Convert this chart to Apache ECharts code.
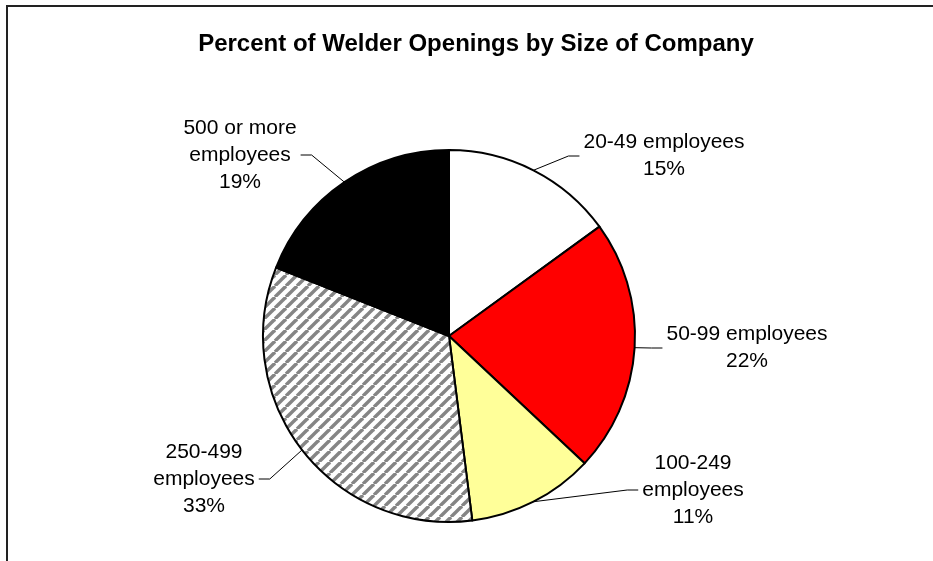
<!DOCTYPE html>
<html>
<head>
<meta charset="utf-8">
<script src="https://cdn.jsdelivr.net/npm/echarts@6/dist/echarts.min.js"></script>
<style>
  html, body { margin: 0; padding: 0; background: #fff; }
  #main { width: 933px; height: 561px; }
</style>
</head>
<body>
<div id="main"></div>
<script>
// 数据
var categories = ['20-49 employees', '50-99 employees', '100-249\nemployees', '250-499\nemployees', '500 or more\nemployees'];
var percents = [15, 22, 11, 33, 19];

// 标签位置 (label block centres, picked to match the layout)
var labelCenters = [[664, 156], [747, 348], [693, 490], [204, 479], [240, 155]];

var FONT = 'Arial, "Liberation Sans", sans-serif';

// 斜线填充
function hatch() {
    var s = 11;
    var c = document.createElement('canvas');
    c.width = s; c.height = s;
    var ctx = c.getContext('2d');
    ctx.fillStyle = '#fff';
    ctx.fillRect(0, 0, s, s);
    ctx.strokeStyle = '#858585';
    ctx.lineWidth = 3.4;
    for (var k = -1; k <= 2; k++) {
        ctx.beginPath();
        ctx.moveTo(k * s - s, s);
        ctx.lineTo(k * s, 0);
        ctx.stroke();
    }
    return c;
}

var colors = ['#ffffff', '#ff0000', '#ffff99', { image: hatch(), repeat: 'repeat' }, '#000000'];

var chart = echarts.init(document.getElementById('main'));

var data = categories.map(function (name, i) {
    return { name: name, value: percents[i], itemStyle: { color: colors[i] } };
});

var option = {
    animation: false,
    title: {
        text: 'Percent of Welder Openings by Size of Company',
        left: 471,
        textAlign: 'center',
        top: 27,
        textStyle: { fontFamily: FONT, fontSize: 24, fontWeight: 'bold', color: '#000' }
    },
    graphic: [
        {
            type: 'rect',
            shape: { x: 7, y: 6, width: 960, height: 600 },
            style: { fill: 'none', stroke: '#222', lineWidth: 2 },
            silent: true
        }
    ],
    series: [
        {
            type: 'pie',
            center: [449, 336],
            radius: 186,
            startAngle: 90,
            clockwise: true,
            data: data,
            itemStyle: { borderColor: '#000', borderWidth: 2 },
            label: {
                show: true,
                position: 'outside',
                fontFamily: FONT,
                fontSize: 21,
                lineHeight: 27,
                color: '#000',
                formatter: function (p) {
                    return p.name + '\n' + Math.round(p.percent) + '%';
                }
            },
            labelLine: {
                show: true,
                length: 10,
                length2: 10,
                lineStyle: { color: '#000', width: 1 }
            },
            labelLayout: function (params) {
                var i = params.dataIndex;
                var c = labelCenters[i];
                var w = params.labelRect.width;
                var p0 = params.labelLinePoints ? params.labelLinePoints[0] : c;
                var right = c[0] > 449;
                var edge = right ? c[0] - w / 2 - 4 : c[0] + w / 2 + 4;
                var bend = right ? edge - 11 : edge + 11;
                return {
                    x: c[0],
                    y: c[1],
                    align: 'center',
                    verticalAlign: 'middle',
                    labelLinePoints: [p0, [bend, c[1]], [edge, c[1]]]
                };
            },
            emphasis: { disabled: true }
        }
    ]
};

chart.setOption(option);
</script>
</body>
</html>
